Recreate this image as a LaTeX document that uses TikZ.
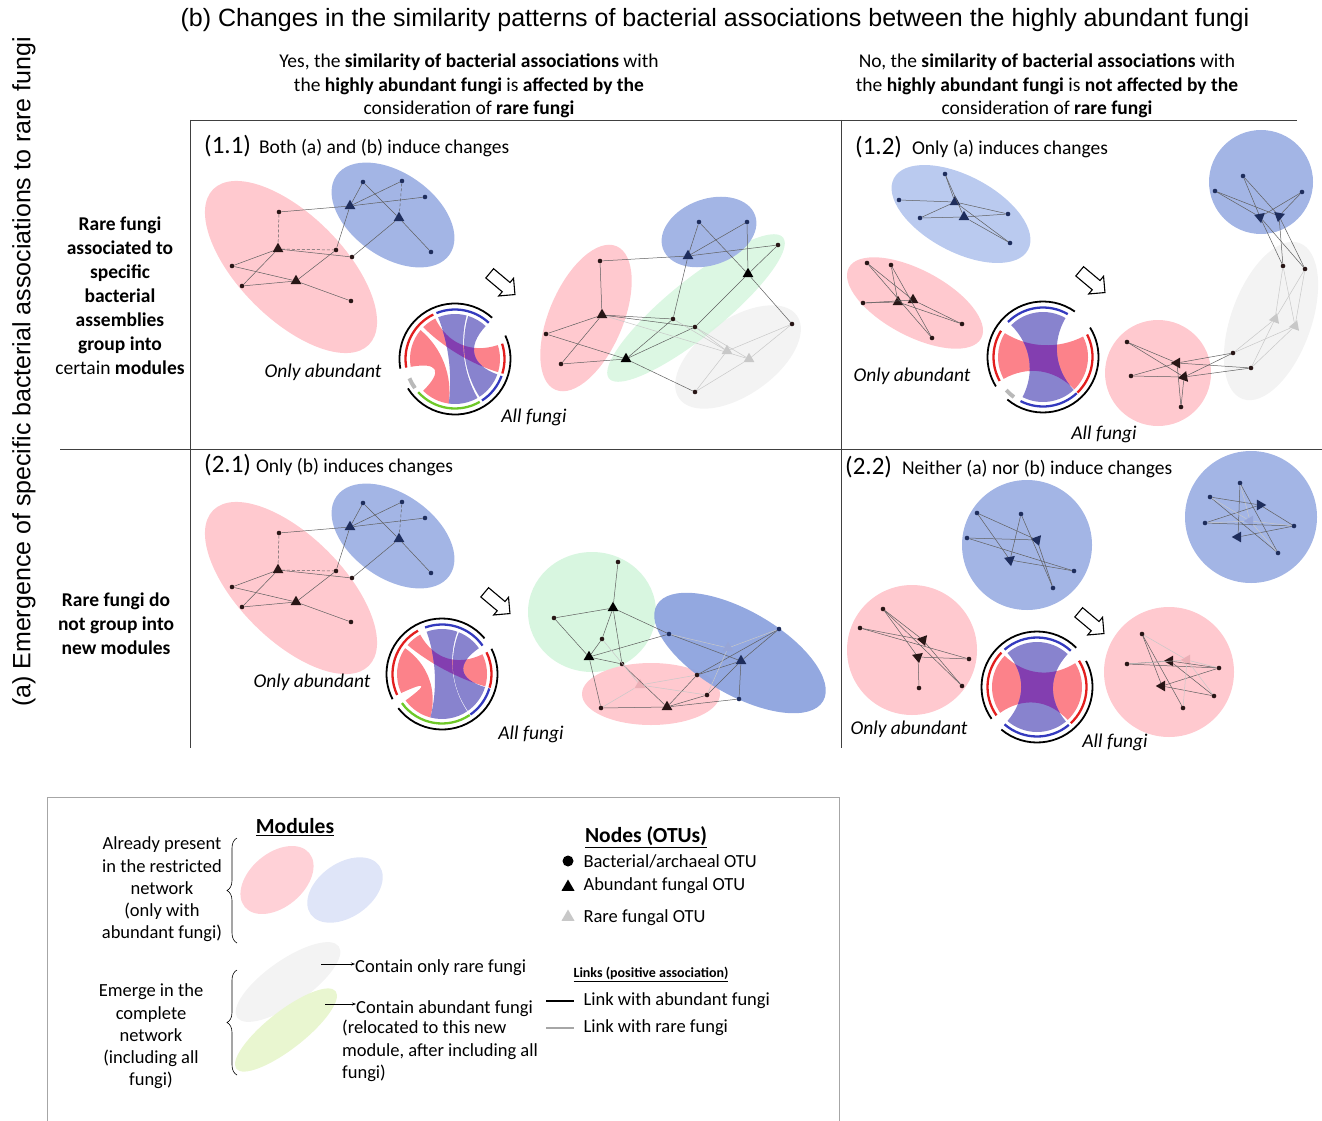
\documentclass[tikz,border=0pt]{standalone}
\usepackage{fontspec}
\setmainfont{Carlito}
\newfontfamily\arialfont{Liberation Sans}
\usepackage{xcolor}
\usepackage{tikz}
\usetikzlibrary{arrows.meta,shapes.geometric,shapes.arrows,decorations.pathreplacing}

\definecolor{modpink}{RGB}{255,201,207}
\definecolor{modblue}{RGB}{163,181,229}
\definecolor{modbluel}{RGB}{186,202,239}
\definecolor{modbluedk}{RGB}{141,163,222}
\definecolor{modgreen}{RGB}{216,246,224}
\definecolor{modgray}{RGB}{243,243,243}
\definecolor{legpink}{RGB}{255,209,215}
\definecolor{leglav}{RGB}{223,229,248}
\definecolor{leggreen}{RGB}{233,246,208}
\definecolor{navyc}{RGB}{30,45,92}
\definecolor{darkc}{RGB}{40,22,22}
\definecolor{lnkc}{RGB}{95,95,95}
\definecolor{rarelnkc}{RGB}{200,200,200}
\definecolor{raretri}{RGB}{200,200,200}
\definecolor{rarebl}{RGB}{150,165,215}
\definecolor{rarepk}{RGB}{235,175,182}
\definecolor{chred}{RGB}{252,130,138}
\definecolor{chblue}{RGB}{136,131,206}
\definecolor{chpur}{RGB}{131,62,176}
\definecolor{sgblue}{RGB}{52,58,190}
\definecolor{sgred}{RGB}{226,30,30}
\definecolor{sggreen}{RGB}{110,200,40}
\definecolor{sggray}{RGB}{185,185,185}

% chord diagram pieces (drawn in a scope with y up)
\newcommand{\chordr}{45}
\newcommand{\chordc}{17}
\newcommand{\ribbonpath}[4]{(#1:\chordr) arc[start angle=#1, end angle=#2, radius=\chordr] .. controls (#2:\chordc) and (#3:\chordc) .. (#3:\chordr) arc[start angle=#3, end angle=#4, radius=\chordr] .. controls (#4:\chordc) and (#1:\chordc) .. (#1:\chordr) -- cycle}
\newcommand{\segarc}[4]{\draw[#1] (#2:#4) arc[start angle=#2, end angle=#3, radius=#4];}

\begin{document}
\begin{tikzpicture}[
  x=1pt, y=-1pt,
  font=\fontsize{18.5}{22.3}\selectfont,
  dot/.style={circle, inner sep=0pt, minimum size=4.6pt},
  tri/.style={regular polygon, regular polygon sides=3, inner sep=0pt, minimum size=12.5pt},
  lnk/.style={draw=lnkc, line width=0.5pt},
  rlnk/.style={draw=rarelnkc, line width=0.5pt},
  dlnk/.style={lnk, densely dashed},
  frame/.style={draw=black!75, line width=0.8pt},
  seg/.style={line width=2.3pt},
  ring/.style={line width=1.8pt, black},
  bigarr/.style={single arrow, draw=black, fill=white, line width=1.1pt, minimum height=33pt, inner xsep=0pt, inner ysep=5.5pt, text height=0pt, text depth=0pt, single arrow head extend=5.5pt},
  chordlab/.style={font=\itshape\fontsize{19.5}{22}\selectfont},
  headtxt/.style={align=center, font=\fontsize{19.5}{23.5}\selectfont},
  rowtxt/.style={align=center, font=\bfseries\fontsize{19.5}{24}\selectfont},
  ptitle/.style={anchor=west, inner sep=0pt, font=\fontsize{19.5}{22}\selectfont},
  legtxt/.style={align=center, font=\fontsize{18.5}{22.3}\selectfont},
  brc/.style={decorate, decoration={brace, amplitude=10pt}, line width=0.6pt},
]
\useasboundingbox (0,0) rectangle (1322,1121);

% headings
\node[font=\arialfont\fontsize{25}{29}\selectfont] (ttl) at (715,20) {(b) Changes in the similarity patterns of bacterial associations between the highly abundant fungi};
\node[rotate=90, font=\arialfont\fontsize{25}{29}\selectfont] (axa) at (24,372) {(a) Emergence of specific bacterial associations to rare fungi};
\node[headtxt] (headyes) at (469,86) {Yes, the \textbf{similarity of bacterial associations} with\\the \textbf{highly abundant fungi} is \textbf{affected by the}\\consideration of \textbf{rare fungi}};
\node[headtxt] (headno) at (1047,86) {No, the \textbf{similarity of bacterial associations} with\\the \textbf{highly abundant fungi} is \textbf{not affected by the}\\consideration of \textbf{rare fungi}};
\node[rowtxt] (rowone) at (120,296) {Rare fungi\\associated to\\specific\\bacterial\\assemblies\\group into\\\mdseries certain \bfseries modules};
\node[rowtxt] (rowtwo) at (116,624) {Rare fungi do\\not group into\\new modules};

% grid
\draw[frame] (190,120) -- (1297,120);
\draw[frame] (190,120) -- (190,748);
\draw[frame] (841,120) -- (841,748);
\draw[frame] (60,449) -- (1322,449);

\node[ptitle] (t11) at (204,146) {{\fontsize{25}{28}\selectfont(1.1)}\hspace{8pt}Both (a) and (b) induce changes};
\node[ptitle] (t12) at (855,147) {{\fontsize{25}{28}\selectfont(1.2)}\hspace{10pt}Only (a) induces changes};
\node[ptitle] (t21) at (204,465) {{\fontsize{25}{28}\selectfont(2.1)}\hspace{5pt}Only (b) induces changes};
\node[ptitle] (t22) at (845,467) {{\fontsize{25}{28}\selectfont(2.2)}\hspace{10pt}Neither (a) nor (b) induce changes};

% restricted networks (1.1) and (2.1)
\foreach \pp/\dy in {a/0,c/321}{
\begin{scope}[yshift=-\dy pt]
  \fill[modpink, rotate around={-45:(291,267)}] (291,267) ellipse[x radius=110pt, y radius=52pt];
  \fill[modblue, rotate around={-35:(393,215)}] (393,215) ellipse[x radius=69pt, y radius=42pt];
  \foreach \n/\x/\y in {1/363/182,2/402/181,3/425/197,4/431/252}
    \node[dot, fill=navyc] (\pp\n) at (\x,\y) {};
  \foreach \n/\x/\y in {5/279/212,6/336/250,7/352/257,8/232/266,9/242/286,10/351/301}
    \node[dot, fill=darkc] (\pp\n) at (\x,\y) {};
  \node[tri, fill=navyc] (\pp11) at (350,206) {};
  \node[tri, fill=navyc] (\pp12) at (399,218) {};
  \node[tri, fill=darkc] (\pp13) at (278,249) {};
  \node[tri, fill=darkc] (\pp14) at (296,281) {};
  \foreach \u/\v in {1/11,1/12,2/11,3/11,12/4,12/7,11/5,11/6,8/13,9/13,8/14,9/14,14/10,14/6,13/7}
    \draw[lnk] (\pp\u) -- (\pp\v);
  \foreach \u/\v in {2/12,5/13,13/6}
    \draw[dlnk] (\pp\u) -- (\pp\v);
\end{scope}}

% complete network (1.1)
\fill[modpink, rotate around={67:(586,318)}] (586,318) ellipse[x radius=78pt, y radius=37pt];
\fill[modgray, rotate around={35:(738,357)}] (738,357) ellipse[x radius=72pt, y radius=38pt];
\fill[modgreen, fill opacity=.9, rotate around={39:(696,308)}] (696,308) ellipse[x radius=112pt, y radius=28pt];
\fill[modblue, rotate around={20:(709,232)}] (709,232) ellipse[x radius=49pt, y radius=33pt];
\foreach \n/\x/\y in {1/699/222,2/747/222}
  \node[dot, fill=navyc] (b\n) at (\x,\y) {};
\foreach \n/\x/\y in {3/778/245,4/673/319,5/695/327,6/600/261,7/546/334,8/561/364,9/792/324,10/695/392}
  \node[dot, fill=darkc] (b\n) at (\x,\y) {};
\node[tri, fill=navyc] (b11) at (688,256) {};
\node[tri, fill=black] (b12) at (748,274) {};
\node[tri, fill=black] (b13) at (626,359) {};
\node[tri, fill=darkc] (b14) at (602,315) {};
\node[tri, fill=raretri] (b15) at (727,351) {};
\node[tri, fill=raretri] (b16) at (749,359) {};
\foreach \u/\v in {1/11,1/12,2/11,2/12,11/3,11/6,11/4,12/3,12/5,12/9,5/13,4/13,14/6,14/7,14/8,14/4,14/5,7/13,8/13,13/10}
  \draw[lnk] (b\u) -- (b\v);
\foreach \u/\v in {4/15,5/15,5/16,14/16,15/9,16/9,15/10,16/10}
  \draw[rlnk] (b\u) -- (b\v);

% chord (1.1)
\begin{scope}[shift={(455,359)}, y=1pt]
  \fill[chred] \ribbonpath{116}{135}{343}{378};
  \fill[chred] \ribbonpath{140}{190}{225}{262};
  \fill[chblue] \ribbonpath{75}{112}{262}{300};
  \fill[chblue] \ribbonpath{47}{73}{303}{340};
  \begin{scope}
    \clip \ribbonpath{116}{135}{343}{378};
    \fill[chpur] \ribbonpath{75}{112}{262}{300};
    \fill[chpur] \ribbonpath{47}{73}{303}{340};
  \end{scope}
  \segarc{sgblue, seg}{47}{112}{49.5}
  \segarc{sgred, seg}{116}{190}{49.5}
  \segarc{sggray, line width=4pt}{203}{216}{49.5}
  \segarc{sggreen, seg}{222}{300}{49.5}
  \segarc{sgblue, seg}{303}{340}{49.5}
  \segarc{sgred, seg}{343}{378}{49.5}
  \segarc{ring}{48}{190}{55.5}
  \segarc{ring}{212}{385}{55.5}
\end{scope}
\node[bigarr, rotate=-40] (arr11) at (500,282) {};
\node[chordlab] (oa11) at (323,372) {Only abundant};
\node[chordlab] (af11) at (534,417) {All fungi};

% (1.2) restricted
\fill[modbluel, rotate around={-28:(961,214)}] (961,214) ellipse[x radius=76pt, y radius=38pt];
\fill[modpink, rotate around={-28:(915,303)}] (915,303) ellipse[x radius=75pt, y radius=33pt];
\foreach \n/\x/\y in {1/945/174,2/899/200,3/920/218,4/1008/214,5/1010/243}
  \node[dot, fill=navyc] (d\n) at (\x,\y) {};
\foreach \n/\x/\y in {6/867/263,7/891/265,8/863/303,9/962/324,10/932/338}
  \node[dot, fill=darkc] (d\n) at (\x,\y) {};
\node[tri, fill=navyc] (d11) at (955,202) {};
\node[tri, fill=navyc] (d12) at (964,217) {};
\node[tri, fill=darkc] (d13) at (898,302) {};
\node[tri, fill=darkc] (d14) at (913,300) {};
\foreach \u/\v in {1/12,1/11,2/11,11/4,11/5,3/11,3/12,12/4,12/5,6/14,6/10,7/13,7/10,8/13,8/14,13/9,14/9}
  \draw[lnk] (d\u) -- (d\v);

% chord (1.2)
\begin{scope}[shift={(1043,357)}, y=1pt]
  \fill[chred] \ribbonpath{148}{209}{314}{387};
  \fill[chblue] \ribbonpath{60}{135}{243}{313};
  \begin{scope}
    \clip \ribbonpath{148}{209}{314}{387};
    \fill[chpur] \ribbonpath{60}{135}{243}{313};
  \end{scope}
  \segarc{sgblue, seg}{60}{135}{49.5}
  \segarc{sgred, seg}{148}{209}{49.5}
  \segarc{sggray, line width=4pt}{222}{234}{49.5}
  \segarc{sgblue, seg}{243}{313}{49.5}
  \segarc{sgred, seg}{314}{387}{49.5}
  \segarc{ring}{55}{212}{55.5}
  \segarc{ring}{230}{392}{55.5}
\end{scope}
\node[bigarr, rotate=-40] (arr12) at (1090,280) {};
\node[chordlab] (oa12) at (912,376) {Only abundant};
\node[chordlab] (af12) at (1104,434) {All fungi};

% (1.2) complete
\fill[modblue] (1261,182) circle[radius=52pt];
\fill[modgray, rotate around={70:(1271,321)}] (1271,321) ellipse[x radius=83pt, y radius=40pt];
\fill[modpink] (1158,373) circle[radius=53pt];
\foreach \n/\x/\y in {1/1243/176,2/1215/191,3/1302/192}
  \node[dot, fill=navyc] (f\n) at (\x,\y) {};
\foreach \n/\x/\y in {4/1283/266,5/1305/269,6/1233/353,7/1251/368,8/1127/342,9/1131/376,10/1181/407}
  \node[dot, fill=darkc] (f\n) at (\x,\y) {};
\node[tri, fill=navyc, shape border rotate=190] (f11) at (1260,217) {};
\node[tri, fill=navyc, shape border rotate=170] (f12) at (1279,216) {};
\node[tri, fill=darkc, shape border rotate=210] (f13) at (1177,363) {};
\node[tri, fill=darkc, shape border rotate=220] (f14) at (1184,377) {};
\node[tri, fill=raretri, shape border rotate=-20] (f15) at (1275,319) {};
\node[tri, fill=raretri, shape border rotate=-20] (f16) at (1295,326) {};
\foreach \u/\v in {1/11,1/12,2/11,2/12,3/11,3/12,11/4,11/5,12/4,12/5,6/13,6/14,7/13,7/14,8/13,8/14,9/13,9/14,13/10,14/10}
  \draw[lnk] (f\u) -- (f\v);
\foreach \u/\v in {4/15,5/15,4/16,5/16,15/6,15/7,16/6,16/7}
  \draw[rlnk] (f\u) -- (f\v);

% chord (2.1)
\begin{scope}[shift={(442,674)}, y=1pt]
  \fill[chred] \ribbonpath{119}{140}{344}{386};
  \fill[chred] \ribbonpath{145}{205}{216}{255};
  \fill[chblue] \ribbonpath{70}{110}{255}{304};
  \fill[chblue] \ribbonpath{35}{68}{305}{343};
  \begin{scope}
    \clip \ribbonpath{119}{140}{344}{386};
    \fill[chpur] \ribbonpath{70}{110}{255}{304};
    \fill[chpur] \ribbonpath{35}{68}{305}{343};
  \end{scope}
  \segarc{sgblue, seg}{35}{110}{49.5}
  \segarc{sgred, seg}{119}{205}{49.5}
  \segarc{sggreen, seg}{216}{304}{49.5}
  \segarc{sgblue, seg}{305}{343}{49.5}
  \segarc{sgred, seg}{344}{386}{49.5}
  \segarc{ring}{40}{207}{55.5}
  \segarc{ring}{218}{387}{55.5}
\end{scope}
\node[bigarr, rotate=-40] (arr21) at (495,601) {};
\node[chordlab] (oa21) at (312,682) {Only abundant};
\node[chordlab] (af21) at (531,734) {All fungi};

% (2.1) complete
\fill[modgreen] (592,612) ellipse[x radius=64pt, y radius=60pt];
\fill[modpink] (651,694) ellipse[x radius=69pt, y radius=31pt];
\fill[modbluedk, fill opacity=.95, rotate around={-30:(740,653)}] (740,653) ellipse[x radius=96pt, y radius=42pt];
\foreach \n/\x/\y in {1/618/562,2/554/618,3/602/639,4/622/664,8/697/675,9/707/695,10/601/708}
  \node[dot, fill=darkc] (g\n) at (\x,\y) {};
\foreach \n/\x/\y in {5/669/634,6/779/629,7/739/699}
  \node[dot, fill=navyc] (g\n) at (\x,\y) {};
\node[tri, fill=black] (g11) at (613,608) {};
\node[tri, fill=black] (g12) at (589,657) {};
\node[tri, fill=navyc] (g13) at (741,661) {};
\node[tri, fill=darkc] (g14) at (667,707) {};
\node[tri, fill=rarebl] (g15) at (728,648) {};
\node[tri, fill=rarepk] (g16) at (640,685) {};
\foreach \u/\v in {1/11,11/2,11/3,11/4,11/5,2/12,3/12,12/4,12/5,12/10,4/14,10/14,14/8,14/9,14/7,8/13,8/6,9/13,13/5,13/6,13/7}
  \draw[lnk] (g\u) -- (g\v);
\foreach \u/\v in {5/15,15/6,15/9,16/10,16/9,16/3,16/8}
  \draw[rlnk] (g\u) -- (g\v);

% (2.2) restricted and complete
\fill[modblue] (1027,545) circle[radius=65pt];
\fill[modpink] (912,650) circle[radius=65pt];
\fill[modblue] (1251,517) circle[radius=66pt];
\fill[modpink] (1169,672) circle[radius=65pt];
\foreach \n/\x/\y in {1/977/513,2/1021/514,3/967/538,4/1074/571,5/1053/588}
  \node[dot, fill=navyc] (h\n) at (\x,\y) {};
\node[tri, fill=navyc, shape border rotate=200] (h11) at (1037,540) {};
\node[tri, fill=navyc, shape border rotate=190] (h12) at (1010,560) {};
\foreach \u/\v in {1/12,1/11,2/12,2/5,3/11,12/4,11/5,3/4}
  \draw[lnk] (h\u) -- (h\v);
\foreach \n/\x/\y in {1/883/609,2/860/628,3/969/659,4/962/686,5/919/688}
  \node[dot, fill=darkc] (i\n) at (\x,\y) {};
\node[tri, fill=darkc, shape border rotate=200] (i11) at (923,640) {};
\node[tri, fill=darkc, shape border rotate=190] (i12) at (918,657) {};
\foreach \u/\v in {1/12,1/11,2/11,2/3,11/4,12/3,12/5,1/4}
  \draw[lnk] (i\u) -- (i\v);
\foreach \n/\x/\y in {1/1240/483,2/1210/497,3/1205/523,4/1294/526,5/1278/553}
  \node[dot, fill=navyc] (k\n) at (\x,\y) {};
\node[tri, fill=navyc, shape border rotate=30] (k11) at (1260,505) {};
\node[tri, fill=navyc, shape border rotate=90] (k12) at (1238,537) {};
\node[tri, fill=rarebl, shape border rotate=90] (k15) at (1250,521) {};
\foreach \u/\v in {1/12,1/5,2/11,3/11,12/4,3/4,2/5,11/4}
  \draw[lnk] (k\u) -- (k\v);
\foreach \u/\v in {15/1,15/2,15/3,15/4,15/5}
  \draw[rlnk] (k\u) -- (k\v);
\foreach \n/\x/\y in {1/1142/634,2/1127/664,3/1219/668,4/1214/696,5/1183/708}
  \node[dot, fill=darkc] (m\n) at (\x,\y) {};
\node[tri, fill=darkc, shape border rotate=90] (m11) at (1170,661) {};
\node[tri, fill=darkc, shape border rotate=90] (m12) at (1162,686) {};
\node[tri, fill=rarepk, shape border rotate=90] (m15) at (1187,660) {};
\foreach \u/\v in {1/12,1/5,2/11,11/3,11/4,12/3,12/4,2/3}
  \draw[lnk] (m\u) -- (m\v);
\foreach \u/\v in {15/1,15/2,15/3,15/4,15/5}
  \draw[rlnk] (m\u) -- (m\v);

% chord (2.2)
\begin{scope}[shift={(1037,687)}, y=1pt]
  \fill[chred] \ribbonpath{136}{215}{313}{392};
  \fill[chblue] \ribbonpath{47}{131}{229}{310};
  \begin{scope}
    \clip \ribbonpath{136}{215}{313}{392};
    \fill[chpur] \ribbonpath{47}{131}{229}{310};
  \end{scope}
  \segarc{sgblue, seg}{47}{131}{49.5}
  \segarc{sgred, seg}{136}{215}{49.5}
  \segarc{sgblue, seg}{229}{310}{49.5}
  \segarc{sgred, seg}{313}{392}{49.5}
  \segarc{ring}{45}{215}{55.5}
  \segarc{ring}{230}{388}{55.5}
\end{scope}
\node[bigarr, rotate=-40] (arr22) at (1089,621) {};
\node[chordlab] (oa22) at (909,729) {Only abundant};
\node[chordlab] (af22) at (1115,742) {All fungi};

% legend
\draw[draw=black!35, line width=0.8pt] (47,797) rectangle (839,1140);
\node[font=\bfseries\fontsize{21.5}{24}\selectfont] (modhd) at (295,827) {\underline{Modules}};
\node[legtxt] (already) at (162,889.5) {Already present\\in the restricted\\network\\(only with\\abundant fungi)};
\node[legtxt] (emerge) at (151,1036.5) {Emerge in the\\complete\\network\\(including all\\fungi)};
\coordinate (brAtop) at (237,838);
\coordinate (brAbot) at (237,943);
\coordinate (brBtop) at (237,970);
\coordinate (brBbot) at (237,1075);
\draw[brc] (brAbot) -- (brAtop);
\draw[brc] (brBbot) -- (brBtop);
\fill[legpink, rotate around={40:(277,880)}] (277,880) ellipse[x radius=42pt, y radius=27pt];
\fill[leglav, rotate around={35:(345,890)}] (345,890) ellipse[x radius=42pt, y radius=27pt];
\fill[modgray, rotate around={35:(288,982)}] (288,982) ellipse[x radius=62pt, y radius=22pt];
\fill[leggreen, rotate around={38:(286,1030)}] (286,1030) ellipse[x radius=63pt, y radius=19pt];
\node[anchor=west, inner sep=0pt] (onlyrare) at (355,968) {Contain only rare fungi};
\node[anchor=west, inner sep=0pt] (abund) at (356,1009) {Contain abundant fungi};
\node[anchor=north west, inner sep=0pt, align=left] (reloc) at (342,1020) {(relocated to this new\\module, after including all\\fungi)};
\coordinate (rarefrom) at (321,964);
\coordinate (abfrom) at (325,1004);
\draw[-{Stealth[length=4pt,width=3pt]}, line width=0.5pt] (rarefrom) -- (rarefrom -| onlyrare.west);
\draw[-{Stealth[length=4pt,width=3pt]}, line width=0.5pt] (abfrom) -- (abfrom -| abund.west);

\node[font=\bfseries\fontsize{21.5}{24}\selectfont] (nodehd) at (646,837) {\underline{Nodes (OTUs)}};
\node[dot, fill=black, minimum size=11pt] (lgdot) at (568,861) {};
\node[tri, fill=black, minimum size=15pt] (lgtri) at (568,887) {};
\node[tri, fill=raretri, minimum size=15pt] (lgrare) at (568,917) {};
\node[anchor=west] (lgdottxt) at (580,861) {Bacterial/archaeal OTU};
\node[anchor=west] (lgtritxt) at (580,886) {Abundant fungal OTU};
\node[anchor=west] (lgraretxt) at (580,918) {Rare fungal OTU};
\node[font=\bfseries\fontsize{14}{16}\selectfont] (linkhd) at (651,974) {\underline{Links (positive association)}};
\coordinate (lkA1) at (546,1001);
\coordinate (lkA2) at (574,1001);
\coordinate (lkB1) at (546,1028);
\coordinate (lkB2) at (574,1028);
\draw[line width=2.2pt, black] (lkA1) -- (lkA2);
\draw[line width=2.2pt, black!35] (lkB1) -- (lkB2);
\node[anchor=west] (lktxtA) at (580,1001) {Link with abundant fungi};
\node[anchor=west] (lktxtB) at (580,1028) {Link with rare fungi};
\end{tikzpicture}
\end{document}
